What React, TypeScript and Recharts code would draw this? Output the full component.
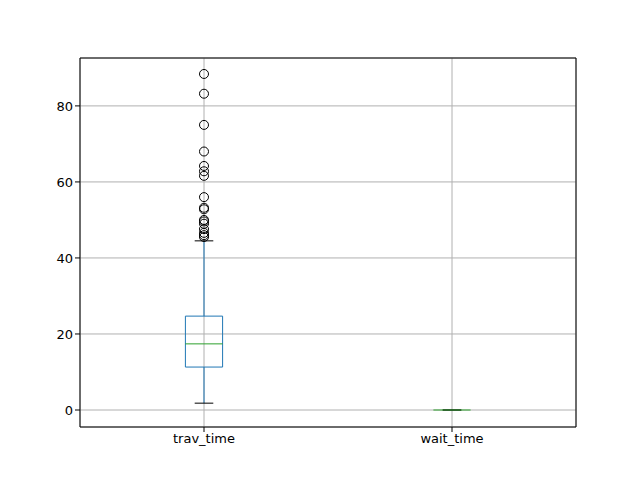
import React from 'react';
import { ComposedChart, Scatter, XAxis, YAxis, CartesianGrid, ReferenceLine, ReferenceArea } from 'recharts';

const categories = ['trav_time', 'wait_time'];
// [whiskerLow, q1, median, q3, whiskerHigh]
const trav_stats = [1.8, 11.3, 17.4, 24.7, 44.5];
const wait_stats = [0, 0, 0, 0, 0];
const trav_outliers = [88.4, 83.2, 75.0, 68.0, 64.2, 62.8, 61.6, 56.0, 53.2, 52.8, 50.0, 49.6, 49.0, 47.6, 46.6, 46.0, 45.5];
const yTicks = [0, 20, 40, 60, 80];

const outlierData = trav_outliers.map((y) => ({ x: 1, y }));
const font = { fontFamily: 'DejaVu Sans', fontSize: 13, fill: '#000' };

function Box({ pos, s }: { pos: number; s: number[] }) {
  const hw = 0.075, cw = 0.0375;
  const blue = '#1f77b4';
  return [
    <ReferenceLine key="wl" segment={[{ x: pos, y: s[0] }, { x: pos, y: s[1] }]} stroke={blue} />,
    <ReferenceLine key="wh" segment={[{ x: pos, y: s[3] }, { x: pos, y: s[4] }]} stroke={blue} />,
    <ReferenceLine key="cl" segment={[{ x: pos - cw, y: s[0] }, { x: pos + cw, y: s[0] }]} stroke="#000" />,
    <ReferenceLine key="ch" segment={[{ x: pos - cw, y: s[4] }, { x: pos + cw, y: s[4] }]} stroke="#000" />,
    <ReferenceArea key="b" x1={pos - hw} x2={pos + hw} y1={s[1]} y2={s[3]} stroke={blue} fill="none" fillOpacity={0} strokeOpacity={1} />,
    <ReferenceLine key="m" segment={[{ x: pos - hw, y: s[2] }, { x: pos + hw, y: s[2] }]} stroke="#2ca02c" />,
  ];
}

export default function App() {
  return (
    <div style={{ position: 'absolute', left: 0, top: 0 }}>
      <ComposedChart width={640} height={480} margin={{ top: 58, right: 64, bottom: 0, left: 0 }}>
        <CartesianGrid stroke="#b0b0b0" />
        <XAxis type="number" dataKey="x" domain={[0.5, 2.5]} ticks={[1, 2]} height={53}
          tickFormatter={(v: number) => categories[v - 1]} tick={font} stroke="#000" tickSize={5} />
        <YAxis type="number" dataKey="y" domain={[-4.47, 92.6]} ticks={yTicks} width={80}
          tick={font} stroke="#000" tickSize={5} allowDataOverflow />
        <ReferenceLine y={92.6} stroke="#000" />
        <ReferenceLine x={2.5} stroke="#000" />
        {Box({ pos: 1, s: trav_stats })}
        {Box({ pos: 2, s: wait_stats })}
        <Scatter data={outlierData} isAnimationActive={false}
          shape={(p: any) => <circle cx={p.cx} cy={p.cy} r={4.5} fill="none" stroke="#000" />} />
      </ComposedChart>
    </div>
  );
}
